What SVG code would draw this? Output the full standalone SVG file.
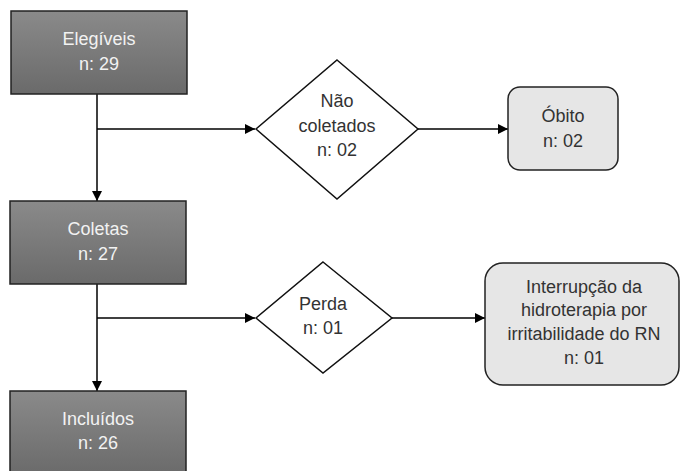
<svg xmlns="http://www.w3.org/2000/svg" width="681" height="471" viewBox="0 0 681 471">
<defs>
<linearGradient id="dk" x1="0" y1="0" x2="0" y2="1">
<stop offset="0" stop-color="#8a8a8a"/>
<stop offset="1" stop-color="#6a6a6a"/>
</linearGradient>
<marker id="ah" viewBox="0 0 10 10" refX="10" refY="5" markerWidth="10" markerHeight="10" markerUnits="userSpaceOnUse" orient="auto">
<path d="M0,0 L10,5 L0,10 z" fill="#000"/>
</marker>
<style>
.dark{fill:url(#dk);stroke:#222;stroke-width:1.5}
.light{fill:#e6e6e6;stroke:#222;stroke-width:1.5}
.dia{fill:#fff;stroke:#111;stroke-width:1.5}
.tw{fill:#f2f2f2;font-family:"Liberation Sans",Arial,sans-serif;font-size:18px;text-anchor:middle}
.tb{fill:#333;font-family:"Liberation Sans",Arial,sans-serif;font-size:18px;text-anchor:middle}
.ln{stroke:#000;stroke-width:1.5;fill:none}
</style>
</defs>
<rect width="681" height="471" fill="#fff"/>
<g id="connectors">
<line class="ln" x1="97" y1="94" x2="97" y2="201" marker-end="url(#ah)"/>
<line class="ln" x1="97" y1="129" x2="255" y2="129" marker-end="url(#ah)"/>
<line class="ln" x1="418" y1="129" x2="508" y2="129" marker-end="url(#ah)"/>
<line class="ln" x1="97" y1="284" x2="97" y2="391" marker-end="url(#ah)"/>
<line class="ln" x1="97" y1="318" x2="255" y2="318" marker-end="url(#ah)"/>
<line class="ln" x1="392" y1="318" x2="485" y2="318" marker-end="url(#ah)"/>
</g>
<g id="elegiveis">
<rect class="dark" x="11" y="11" width="176" height="83"/>
<text class="tw" x="99" y="45">Elegíveis</text>
<text class="tw" x="99" y="70">n: 29</text>
</g>
<g id="nao-coletados">
<polygon class="dia" points="337,60 418,129 337,199 256,129"/>
<text class="tb" x="337" y="107">Não</text>
<text class="tb" x="337" y="132">coletados</text>
<text class="tb" x="337" y="156">n: 02</text>
</g>
<g id="obito">
<rect class="light" x="508" y="87" width="110" height="83" rx="12"/>
<text class="tb" x="563" y="122">Óbito</text>
<text class="tb" x="563" y="147">n: 02</text>
</g>
<g id="coletas">
<rect class="dark" x="10" y="201" width="176" height="83"/>
<text class="tw" x="98" y="235">Coletas</text>
<text class="tw" x="98" y="260">n: 27</text>
</g>
<g id="perda">
<polygon class="dia" points="323,262 392,318 323,373 256,318"/>
<text class="tb" x="323" y="310">Perda</text>
<text class="tb" x="323" y="334">n: 01</text>
</g>
<g id="interrupcao">
<rect class="light" x="485" y="263" width="194" height="122" rx="18"/>
<text class="tb" x="584" y="293">Interrupção da</text>
<text class="tb" x="584" y="316">hidroterapia por</text>
<text class="tb" x="584" y="340">irritabilidade do RN</text>
<text class="tb" x="584" y="364">n: 01</text>
</g>
<g id="incluidos">
<rect class="dark" x="10" y="391" width="176" height="85"/>
<text class="tw" x="98" y="425">Incluídos</text>
<text class="tw" x="98" y="449">n: 26</text>
</g>
</svg>
